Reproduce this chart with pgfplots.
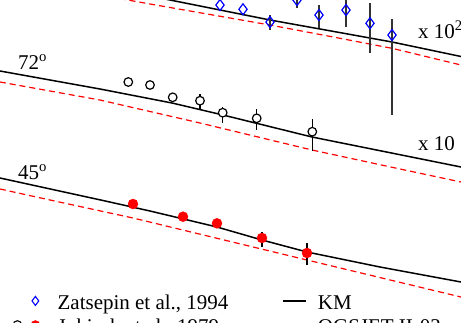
\documentclass[border=0pt]{standalone}
\usepackage{fontspec}
\setmainfont{Liberation Serif}
\usepackage{pgfplots}
\pgfplotsset{compat=1.18}
\newcommand{\bigfont}{\fontsize{21}{25}\selectfont}
\begin{document}
\begin{tikzpicture}
\useasboundingbox (0,0) rectangle (461pt,322pt);
\begin{axis}[
  at={(0,0)}, anchor=south west,
  width=461pt, height=322pt, scale only axis,
  xmin=0, xmax=461, ymin=0, ymax=322, y dir=reverse,
  hide axis, clip=true,
  legend columns=2,
  legend style={at={(axis cs:12,294.7)}, anchor=north west, draw=none, fill=none,
    font=\bigfont, inner sep=0pt, column sep=0pt, row sep=8pt,
    nodes={inner sep=0pt}},
  legend cell align=left,
]
% ---- top group (x 10^2)
\addplot[forget plot, black, line width=1.5pt] coordinates {
 (100,-14) (170,0) (270,20) (345,33.5) (392,42) (461,56.5) (480,61)};
\addplot[forget plot, red, line width=1.2pt, dash pattern=on 6pt off 4pt] coordinates {
 (100,-5) (150,4) (270,25) (340,38.3) (392,48.3) (461,65) (480,70)};
% ---- middle group (x 10)
\addplot[forget plot, black, line width=1.5pt] coordinates {
 (-10,69) (0,71) (100,89) (172,103) (223,115) (312,137) (461,167) (480,171)};
\addplot[forget plot, red, line width=1.2pt, dash pattern=on 6pt off 4pt] coordinates {
 (-10,80) (0,82) (100,100) (200,123) (312,150) (400,169) (461,182) (480,186)};
% ---- bottom group
\addplot[forget plot, black, line width=1.5pt] coordinates {
 (-10,176) (0,178) (103,200.5) (150,211) (217,227) (262,240) (307,252) (380,267) (461,282) (480,286)};
\addplot[forget plot, red, line width=1.2pt, dash pattern=on 6pt off 4pt] coordinates {
 (-10,187) (0,189) (50,200) (133,218) (307,260) (461,297) (480,301)};
% ---- Zatsepin diamonds
\addplot[forget plot, only marks, mark=diamond, mark size=5.5pt,
  mark options={draw=blue, fill=white, line width=1.2pt, solid},
  error bars/.cd, y dir=both, y explicit, error mark=none,
  error bar style={black!80, line width=1.3pt}]
 coordinates {
 (195,-1) +=(0,0) -=(0,0)
 (220,5) +=(0,0) -=(0,0)
 (243,9.3) +=(0,0) -=(0,0)
 (270,22) +=(0,8) -=(0,7)
 (297,0) +=(0,8) -=(0,3)
 (319,15) +=(0,13) -=(0,10)
 (346,10) +=(0,17) -=(0,14)
 (370,23.3) +=(0,30) -=(0,20)
 (392,35) +=(0,80) -=(0,16)
 };
% ---- Jokisch 72 deg open circles
\addplot[forget plot, only marks, mark=*, mark size=4.3pt,
  mark options={draw=black, fill=white, line width=1.2pt},
  error bars/.cd, y dir=both, y explicit, error mark=none,
  error bar style={black, line width=1.2pt}]
 coordinates {
 (128.3,82) +=(0,0) -=(0,0)
 (150,85) +=(0,0) -=(0,0)
 (172.7,97.3) +=(0,0) -=(0,0)
 (200,100.7) +=(0,9.3) -=(0,6.7)
 (222.7,112.7) +=(0,10) -=(0,6)
 (256.7,118.3) +=(0,11.7) -=(0,9.3)
 (312.3,131.7) +=(0,19.3) -=(0,12.7)
 };
% ---- Jokisch 45 deg red dots
\addplot[forget plot, only marks, mark=*, mark size=5pt,
  mark options={draw=red, fill=red},
  error bars/.cd, y dir=both, y explicit, error mark=none,
  error bar style={black, line width=1.2pt}]
 coordinates {
 (133,204) +=(0,0) -=(0,0)
 (183,216.7) +=(0,0) -=(0,0)
 (217,223.3) +=(0,0) -=(0,0)
 (262,238) +=(0,9) -=(0,6)
 (307,253) +=(0,12) -=(0,10)
 };
% ---- labels
\node[anchor=base west, inner sep=0pt, font=\bigfont] at (axis cs:418,38) {x 10\textsuperscript{2}};
\node[anchor=base west, inner sep=0pt, font=\bigfont] at (axis cs:418,150) {x 10};
\node[anchor=base west, inner sep=0pt, font=\bigfont] at (axis cs:18,69) {72\textsuperscript{o}};
\node[anchor=base west, inner sep=0pt, font=\bigfont] at (axis cs:18,179) {45\textsuperscript{o}};
% ---- legend
\addlegendimage{legend image code/.code={\path (0pt,0pt) (45pt,0pt); \draw[blue, fill=white, line width=1.1pt] plot[mark=diamond, mark size=4.5pt, only marks] coordinates {(23pt,2pt)};}}
\addlegendentry{\makebox[213pt][l]{Zatsepin et al., 1994}}
\addlegendimage{legend image code/.code={\path (0pt,0pt) (47pt,0pt); \draw[black, line width=1.4pt] (12pt,2pt) -- (35pt,2pt);}}
\addlegendentry{KM}
\addlegendimage{legend image code/.code={\path (0pt,0pt) (45pt,0pt); \draw[black, line width=1.1pt, fill=white] (5pt,2pt) circle (4.3pt); \fill[red] (23pt,2pt) circle (4.5pt);}}
\addlegendentry{\makebox[213pt][l]{Jokisch et al., 1979}}
\addlegendimage{legend image code/.code={\path (0pt,0pt) (47pt,0pt); \draw[red, line width=1.2pt, dash pattern=on 6pt off 4pt] (12pt,2pt) -- (35pt,2pt);}}
\addlegendentry{QGSJET-II-03}
\end{axis}
\end{tikzpicture}
\end{document}
